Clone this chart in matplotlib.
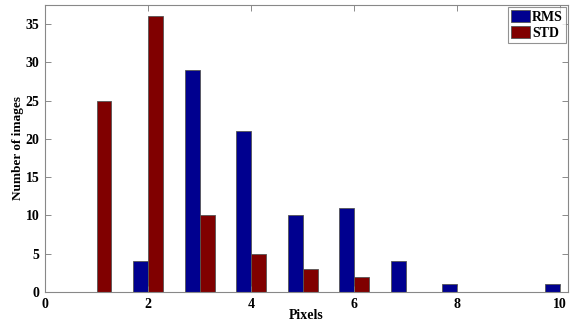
import numpy as np
import matplotlib
matplotlib.use("Agg")
import matplotlib.pyplot as plt

plt.rcParams['font.family'] = ['Liberation Serif', 'DejaVu Serif']
plt.rcParams['font.weight'] = 'bold'

pixels = [1, 2, 3, 4, 5, 6, 7, 8, 9, 10]
rms = [0, 4, 29, 21, 10, 11, 4, 1, 0, 1]
std = [25, 36, 10, 5, 3, 2, 0, 0, 0, 0]

fig = plt.figure(figsize=(5.72, 3.23), dpi=100)
ax = fig.add_axes([0.0787, 0.096, 0.9143, 0.8885])

x = np.array(pixels)
w = 0.29
ax.bar(x - w / 2, rms, w, color='#00008f', edgecolor='#555555', linewidth=0.6, label='RMS')
ax.bar(x + w / 2, std, w, color='#800000', edgecolor='#555555', linewidth=0.6, label='STD')

ax.set_xlim(0, 10.15)
ax.set_ylim(0, 37.5)
ax.set_xticks([0, 2, 4, 6, 8, 10])
ax.set_yticks(range(0, 36, 5))
ax.tick_params(direction='in', top=True, right=True, length=4, width=0.6,
               color='#777777', labelsize=10, pad=4)
for lab in ax.get_xticklabels() + ax.get_yticklabels():
    lab.set_fontweight('bold')
for s in ax.spines.values():
    s.set_color('#888888')
    s.set_linewidth(0.8)

ax.set_xlabel('Pixels', fontsize=10, fontweight='bold', labelpad=-1)
ax.set_ylabel('Number of images', fontsize=9.5, fontweight='bold', labelpad=1)

leg = ax.legend(loc='upper right', fontsize=10, fancybox=False, handlelength=1.4,
                handleheight=1.0, handletextpad=0.15, borderpad=0.2,
                labelspacing=0.15, borderaxespad=0.15)
leg.get_frame().set_edgecolor('#777777')
leg.get_frame().set_linewidth(0.8)

plt.savefig('out.png', dpi=100)
